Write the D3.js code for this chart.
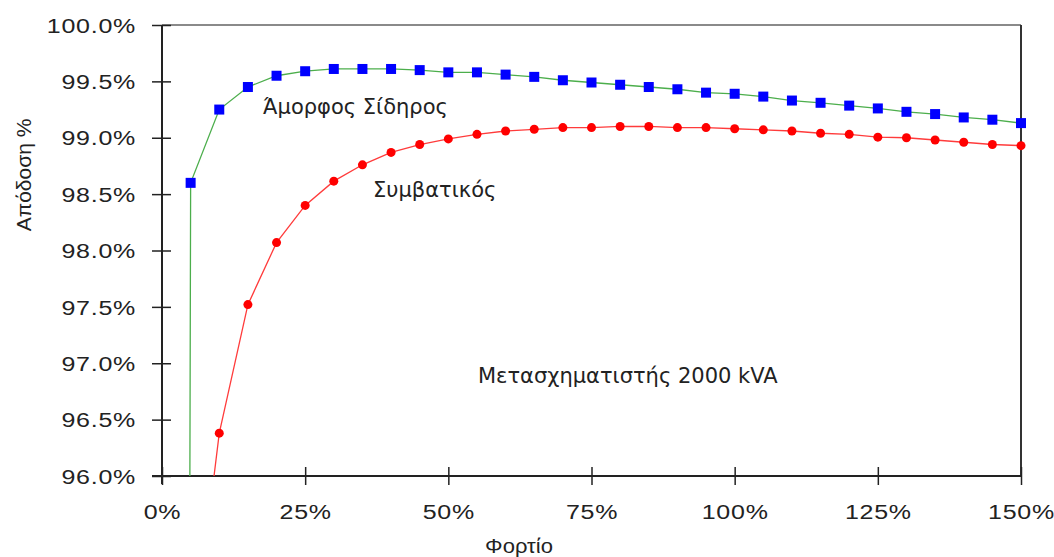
<!DOCTYPE html>
<html>
<head>
<meta charset="utf-8">
<script src="https://cdn.jsdelivr.net/npm/d3@7"></script>
<style>
  html, body { margin: 0; padding: 0; background: #fff; }
  svg { display: block; }
  text { font-family: "Liberation Sans", Arial, sans-serif; fill: #222; }
  text.note { font-family: "DejaVu Sans", sans-serif; font-size: 21px; }
</style>
</head>
<body>
<svg id="chart" width="1054" height="557"></svg>
<script>
// Load (% of rated) and efficiency (%) for a 2000 kVA transformer
const loadPct = [0, 5, 10, 15, 20, 25, 30, 35, 40, 45, 50,
                 55, 60, 65, 70, 75, 80, 85, 90, 95, 100,
                 105, 110, 115, 120, 125, 130, 135, 140, 145, 150];

// Amorphous iron core
const amorphous = [0, 98.60, 99.25, 99.45, 99.55, 99.59, 99.61, 99.61, 99.61, 99.60, 99.58,
                   99.58, 99.56, 99.54, 99.51, 99.49, 99.47, 99.45, 99.43, 99.40, 99.39,
                   99.365, 99.33, 99.31, 99.285, 99.26, 99.23, 99.21, 99.18, 99.16, 99.13];

// Conventional (silicon steel) core
const conventional = [0, 94.30, 96.38, 97.52, 98.07, 98.40, 98.615, 98.76, 98.87, 98.94, 98.99,
                      99.03, 99.06, 99.075, 99.09, 99.09, 99.10, 99.10, 99.09, 99.09, 99.08,
                      99.07, 99.06, 99.04, 99.03, 99.005, 99.00, 98.98, 98.96, 98.94, 98.93];

const xTicks = [0, 25, 50, 75, 100, 125, 150];
const yTicks = [96, 96.5, 97, 97.5, 98, 98.5, 99, 99.5, 100];

const labels = {
  amorphous: "Άμορφος Σίδηρος",
  conventional: "Συμβατικός",
  note: "Μετασχηματιστής 2000 kVA",
  xTitle: "Φορτίο",
  yTitle: "Απόδοση %"
};

const svg = d3.select("#chart");

const x = d3.scaleLinear().domain([0, 150]).range([162, 1021]);
const y = d3.scaleLinear().domain([96, 100]).range([476, 25]);

// tick labels are drawn wide: horizontal stretch factor
const stretch = 1.25;

// plot frame: grey top edge, dark right edge
svg.append("line")
  .attr("x1", x(0)).attr("x2", x(150)).attr("y1", y(100)).attr("y2", y(100))
  .attr("stroke", "#8a8a8a").attr("stroke-width", 2);
svg.append("line")
  .attr("x1", x(150)).attr("x2", x(150)).attr("y1", y(100)).attr("y2", y(96))
  .attr("stroke", "#333").attr("stroke-width", 2);

// Y axis with ticks crossing the axis line
const yAxis = svg.append("g")
  .attr("transform", `translate(${x(0)},0)`)
  .call(d3.axisLeft(y).tickValues(yTicks).tickSize(10).tickSizeOuter(0)
        .tickFormat(d => d.toFixed(1) + "%"));
yAxis.select(".domain").remove();
yAxis.selectAll(".tick line").attr("x1", 9).attr("x2", -10)
  .attr("stroke", "#222").attr("stroke-width", 1.5);
yAxis.selectAll(".tick text")
  .attr("x", -26 / stretch).attr("dy", "0.36em")
  .attr("transform", `scale(${stretch},1)`)
  .style("font-size", "20px").style("letter-spacing", "0.6px")
  .style("font-family", "'Liberation Sans', Arial, sans-serif").attr("fill", "#222");
svg.append("line")
  .attr("x1", x(0)).attr("x2", x(0)).attr("y1", y(100)).attr("y2", y(96) + 8)
  .attr("stroke", "#222").attr("stroke-width", 2);

// X axis
const xAxis = svg.append("g")
  .attr("transform", `translate(0,${y(96)})`)
  .call(d3.axisBottom(x).tickValues(xTicks).tickSize(10).tickSizeOuter(0)
        .tickFormat(d => d + "%"));
xAxis.select(".domain").remove();
xAxis.selectAll(".tick line").attr("y1", -9).attr("y2", 9)
  .attr("stroke", "#222").attr("stroke-width", 1.5);
xAxis.selectAll(".tick text")
  .attr("y", 43).attr("dy", "0")
  .attr("transform", `scale(${stretch},1)`)
  .style("font-size", "20px").style("letter-spacing", "0.6px")
  .style("font-family", "'Liberation Sans', Arial, sans-serif").attr("fill", "#222");
svg.append("line")
  .attr("x1", x(0) - 10).attr("x2", x(150)).attr("y1", y(96)).attr("y2", y(96))
  .attr("stroke", "#222").attr("stroke-width", 2);

// clip lines to plot area
svg.append("clipPath").attr("id", "plot-clip")
  .append("rect")
  .attr("x", x(0)).attr("y", y(100))
  .attr("width", x(150) - x(0)).attr("height", y(96) - y(100));

const line = d3.line().x(d => x(d[0])).y(d => y(d[1]));
const amorphPts = loadPct.map((l, i) => [l, amorphous[i]]);
const convPts = loadPct.map((l, i) => [l, conventional[i]]);
const inView = d => d[1] >= 96 && d[1] <= 100;

const lines = svg.append("g").attr("clip-path", "url(#plot-clip)");
lines.append("path").datum(convPts)
  .attr("d", line).attr("fill", "none")
  .attr("stroke", "#ff3b3b").attr("stroke-width", 1.3);
lines.append("path").datum(amorphPts)
  .attr("d", line).attr("fill", "none")
  .attr("stroke", "#4cae4c").attr("stroke-width", 1.3);

// markers
const sq = 10;
svg.append("g").selectAll("rect")
  .data(amorphPts.filter(inView))
  .join("rect")
  .attr("x", d => x(d[0]) - sq / 2).attr("y", d => y(d[1]) - sq / 2)
  .attr("width", sq).attr("height", sq)
  .attr("fill", "#0000ff");
svg.append("g").selectAll("circle")
  .data(convPts.filter(inView))
  .join("circle")
  .attr("cx", d => x(d[0])).attr("cy", d => y(d[1]))
  .attr("r", 4.5).attr("fill", "#ff0000");

// annotations
const ann = svg.append("g");
ann.append("text").attr("class", "note").attr("x", 263).attr("y", 114).text(labels.amorphous);
ann.append("text").attr("class", "note").attr("x", 373).attr("y", 197).text(labels.conventional);
ann.append("text").attr("class", "note").attr("x", 478).attr("y", 383).text(labels.note);

// axis titles
svg.append("text")
  .attr("transform", "translate(519,553) scale(1.1,1)").attr("text-anchor", "middle")
  .style("font-size", "20px").text(labels.xTitle);
svg.append("text")
  .attr("transform", "translate(31,175) rotate(-90)")
  .attr("text-anchor", "middle")
  .style("font-size", "21px").text(labels.yTitle);
</script>
</body>
</html>
